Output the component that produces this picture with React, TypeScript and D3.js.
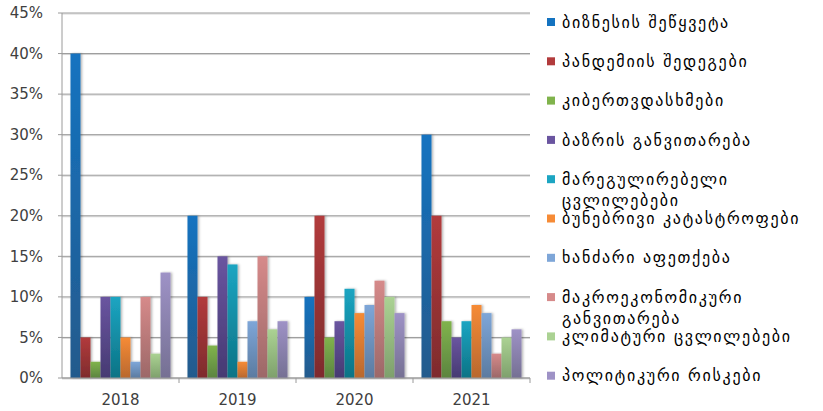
import * as d3 from "d3";

const years = ["2018", "2019", "2020", "2021"];

const seriesNames = [
  "ბიზნესის შეწყვეტა",
  "პანდემიის შედეგები",
  "კიბერთვდასხმები",
  "ბაზრის განვითარება",
  "მარეგულირებელი ცვლილებები",
  "ბუნებრივი კატასტროფები",
  "ხანძარი აფეთქება",
  "მაკროეკონომიკური განვითარება",
  "კლიმატური ცვლილებები",
  "პოლიტიკური რისკები",
];

// legend lines (some entries wrap)
const legendLines = [
  ["ბიზნესის შეწყვეტა"],
  ["პანდემიის შედეგები"],
  ["კიბერთვდასხმები"],
  ["ბაზრის განვითარება"],
  ["მარეგულირებელი", "ცვლილებები"],
  ["ბუნებრივი კატასტროფები"],
  ["ხანძარი აფეთქება"],
  ["მაკროეკონომიკური", "განვითარება"],
  ["კლიმატური ცვლილებები"],
  ["პოლიტიკური რისკები"],
];

// values in % per series, one per year
const values = [
  [40, 20, 10, 30],
  [5, 10, 20, 20],
  [2, 4, 5, 7],
  [10, 15, 7, 5],
  [10, 14, 11, 7],
  [5, 2, 8, 9],
  [2, 7, 9, 8],
  [10, 15, 12, 3],
  [3, 6, 10, 5],
  [13, 7, 8, 6],
];

const yTicks = [0, 5, 10, 15, 20, 25, 30, 35, 40, 45];

const colors = [
  ["#1473c0", "#245a8c"],
  ["#b23b3c", "#7e2b2d"],
  ["#80b34c", "#5c8440"],
  ["#6a55a0", "#463a72"],
  ["#1ca5c2", "#0c7385"],
  ["#f68b36", "#b8682e"],
  ["#7ea6d8", "#5b7ba0"],
  ["#d68a8a", "#9c6868"],
  ["#abd293", "#7ea06c"],
  ["#9e92c6", "#757093"],
];

const W = 823;
const H = 411;
const left = 62;
const right = 530;
const top = 13;
const bottom = 378;
const font = "'DejaVu Sans', Verdana, sans-serif";

export default function App() {
  const x = d3
    .scaleBand<string>()
    .domain(years)
    .range([left, right])
    .paddingInner(0.145)
    .paddingOuter(0.0725);
  const xs = d3
    .scaleBand<number>()
    .domain(d3.range(seriesNames.length))
    .range([0, x.bandwidth()]);
  const y = d3.scaleLinear().domain([0, 45]).range([bottom, top]);
  const step = x.step();

  return (
    <div style={{ position: "absolute", left: 0, top: 0 }}>
      <svg width={W} height={H} style={{ display: "block", background: "#fff" }}>
        <defs>
          {colors.map((c, i) => (
            <linearGradient key={i} id={`g${i}`} x1="0" y1="0" x2="0" y2="1">
              <stop offset="0%" stopColor={c[0]} />
              <stop offset="100%" stopColor={c[1]} />
            </linearGradient>
          ))}
          <filter id="sh" x="-20%" y="-5%" width="160%" height="110%">
            <feDropShadow dx="1.5" dy="0" stdDeviation="0.8" floodColor="#000" floodOpacity="0.3" />
          </filter>
        </defs>

        {/* gridlines */}
        {yTicks.map((t) => (
          <g key={t}>
            <line x1={left} x2={right} y1={y(t) + 1} y2={y(t) + 1} stroke="#d8d8d8" strokeWidth={1} />
            <line x1={left} x2={right} y1={y(t)} y2={y(t)} stroke="#9a9a9a" strokeWidth={1} />
            <line x1={left - 4} x2={left} y1={y(t)} y2={y(t)} stroke="#9a9a9a" />
            <text
              x={43}
              y={y(t)}
              dy="0.35em"
              textAnchor="end"
              fontFamily={font}
              fontSize={15}
              fill="#404040"
            >
              {t}%
            </text>
          </g>
        ))}
        <line x1={left} x2={left} y1={top} y2={bottom} stroke="#9a9a9a" />

        {/* bars */}
        {values.map((row, si) =>
          row.map((v, yi) => (
            <rect
              key={`${si}-${yi}`}
              x={(x(years[yi]) ?? 0) + (xs(si) ?? 0)}
              y={y(v)}
              width={xs.bandwidth()}
              height={bottom - y(v)}
              fill={`url(#g${si})`}
              filter="url(#sh)"
            />
          ))
        )}

        {/* x axis */}
        <line x1={left} x2={right} y1={bottom} y2={bottom} stroke="#9a9a9a" />
        {years.map((yr, i) => (
          <g key={yr}>
            <line
              x1={left + step * (i + 1)}
              x2={left + step * (i + 1)}
              y1={bottom}
              y2={bottom + 5}
              stroke="#9a9a9a"
            />
            <text
              x={(x(yr) ?? 0) + x.bandwidth() / 2}
              y={400}
              dy="0.35em"
              textAnchor="middle"
              fontFamily={font}
              fontSize={15}
              fill="#404040"
            >
              {yr}
            </text>
          </g>
        ))}

        {/* legend */}
        {legendLines.map((lines, i) => {
          const ly = 22 + i * 39.3;
          return (
            <g key={i}>
              <rect x={547} y={ly - 4} width={8} height={8} fill={colors[i][0]} />
              {lines.map((ln, k) => (
                <text
                  key={k}
                  x={562}
                  y={ly + k * 21}
                  dy="0.35em"
                  fontFamily={font}
                  fontSize={16}
                  letterSpacing={1.7}
                  fill="#000"
                >
                  {ln}
                </text>
              ))}
            </g>
          );
        })}
      </svg>
    </div>
  );
}
